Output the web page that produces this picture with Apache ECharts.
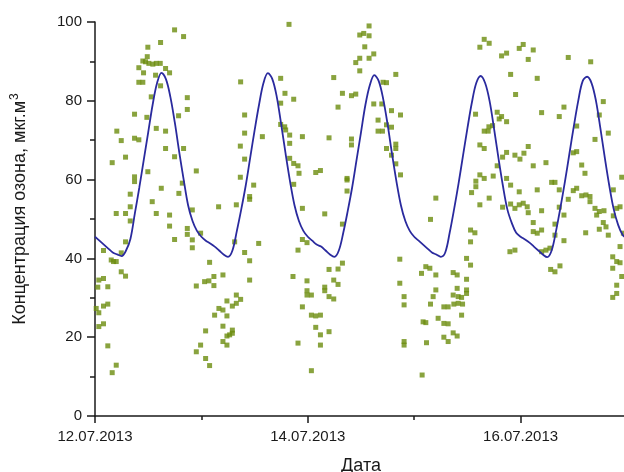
<!DOCTYPE html>
<html>
<head>
<meta charset="utf-8">
<script src="https://cdn.jsdelivr.net/npm/echarts@6/dist/echarts.min.js"></script>
<style>
html,body{margin:0;padding:0;background:#fff;}
#chart{width:624px;height:472px;}
</style>
</head>
<body>
<div id="chart"></div>
<script>
// x values are hours since 12.07.2013 00:00
const tickLabels = ['12.07.2013', '14.07.2013', '16.07.2013'];
const xTitle = 'Дата';
const yTitle = 'Концентрация озона, мкг.м';

// modelled ozone concentration, hourly (h0 .. h120)
const modelValues = [
  45.5, 44.5, 43.5, 42.5, 41.5, 41, 40.6, 42, 45, 51.5, 58, 65, 72, 79, 84.5, 87.1, 85.5, 81, 74.5, 67, 60, 53.5, 49.5, 47,
  45.5, 44.5, 43.8, 43, 42, 41, 40.4, 42, 47, 52.5, 58.5, 65.5, 72.5, 79, 84.5, 87, 85.5, 81, 74, 66.5, 59.5, 53.5, 49.5, 47,
  45.5, 44.5, 43.5, 43, 42, 41, 40.4, 42, 46.5, 52, 58, 65, 72, 79, 84, 86.5, 85, 80.5, 74, 66.5, 59.5, 53.5, 49.5, 47,
  45.5, 44.5, 43.5, 42.5, 41.5, 41, 40.4, 41.5, 46.5, 52.5, 59, 66, 73, 79.5, 84.5, 86.3, 84.5, 80, 73, 65.5, 58.5, 52.5, 49, 46.5,
  45.5, 44.8, 44, 43, 42, 41, 40.3, 42, 47, 53, 59.5, 66.5, 73.5, 80, 85, 86.1, 84.5, 80, 73, 65.5, 58.5, 52.5, 48.5, 46,
  45
];

// observed ozone concentration: [hour, value]
const observed = [
  [17.95,98.0],[19.98,96.3],[14.79,94.8],[11.92,93.6],[11.79,91.2],[10.79,90.1],[11.40,89.9],[12.15,89.5],[13.05,89.3],[13.82,89.5],
  [14.72,89.5],[9.89,88.4],[15.92,88.2],[16.82,87.1],[10.95,87.1],[13.66,86.5],[9.89,84.7],[10.79,84.7],[14.79,83.8],[12.69,81.0],
  [20.82,80.8],[20.82,77.8],[8.92,76.6],[11.70,75.8],[18.85,76.2],[13.82,73.0],[15.92,72.3],[4.92,72.3],[5.92,69.9],[8.92,70.5],
  [9.89,70.1],[15.92,67.9],[19.98,67.9],[3.88,64.3],[6.89,65.7],[17.95,65.8],[22.85,62.2],[11.92,62.0],[8.92,60.7],[8.92,59.5],
  [19.69,59.1],[14.95,57.8],[7.95,56.3],[18.92,56.5],[12.91,54.4],[7.95,53.1],[21.95,52.3],[4.79,51.4],[6.89,51.4],[13.82,51.4],
  [16.82,51.0],[32.85,84.8],[33.75,76.4],[33.75,71.8],[32.78,68.5],[33.75,65.2],[37.75,70.9],[32.78,60.6],[35.79,58.6],[34.88,55.7],
  [34.88,55.0],[31.88,53.6],[27.88,53.1],
  [7.95,49.5],[16.82,48.2],[20.82,47.6],[20.82,46.1],[21.95,44.7],[21.95,42.7],[17.95,44.8],[23.82,46.4],[6.89,44.2],[1.92,42.0],
  [5.92,41.4],[3.66,39.6],[4.18,39.2],[4.79,39.2],[5.92,36.6],[6.89,35.5],[0.86,34.5],[1.92,34.9],[0.63,32.7],[2.89,32.8],
  [1.92,27.9],[2.89,28.4],[0.86,26.2],[0.86,22.7],[1.92,23.4],[2.89,17.8],[4.79,12.9],[3.88,11.0],[0.27,27.3],[31.5,44.2],
  [36.92,43.8],[33.75,41.5],[34.88,39.4],[34.88,34.5],[25.85,39.0],[26.82,35.4],[28.86,35.8],[24.72,34.1],[25.69,34.3],[26.82,33.1],
  [22.85,33.0],[29.76,29.2],[31.88,30.7],[32.85,29.6],[31.88,28.6],[30.98,27.9],[27.95,27.3],[28.86,26.9],[26.98,25.6],[29.76,25.4],
  [28.86,22.8],[30.98,21.8],[30.98,21.0],[29.76,20.3],[30.37,20.6],[24.95,21.6],[28.86,18.9],[29.76,18.0],[23.82,18.0],[22.85,16.3],
  [24.95,14.6],[25.85,12.8],
  [43.76,99.4],[61.82,99.0],[59.72,96.7],[60.62,97.1],[61.82,96.5],[60.85,93.7],[62.88,91.9],[59.72,90.8],[61.82,90.8],[58.82,89.7],
  [59.72,87.6],[67.85,86.7],[53.85,85.9],[41.88,85.7],[64.98,84.7],[65.75,84.6],[55.81,81.9],[57.85,81.3],[58.82,81.7],[42.85,81.9],
  [44.82,80.4],[41.88,79.4],[54.82,78.4],[62.88,79.2],[64.69,79.2],[66.88,77.5],[68.91,76.4],[63.85,75.1],[41.88,74.0],[42.79,73.4],
  [43.01,72.6],[65.75,73.9],[66.88,73.3],[63.85,72.3],[64.84,72.3],[43.91,71.3],[46.78,70.9],[52.79,70.6],[57.85,70.3],[57.85,68.8],
  [43.91,69.2],[67.85,69.0],[67.85,67.9],[65.75,67.9],[43.91,65.4],[66.88,66.2],[44.82,64.1],[45.79,63.5],[67.85,64.0],[46.02,61.6],
  [49.79,61.8],[50.85,62.3],[56.85,60.3],[56.85,59.9],[68.91,61.2],[44.82,58.8],[56.85,57.1],[76.88,55.3],[46.78,52.7],[51.82,51.3],
  [75.68,49.9],
  [55.81,48.7],[46.78,44.8],[47.82,44.0],[45.79,42.1],[55.81,38.8],[52.79,37.2],[54.82,37.3],[44.66,35.4],[47.82,34.3],[53.85,34.5],
  [54.82,33.4],[51.82,32.7],[51.82,31.8],[47.82,31.8],[47.82,30.7],[48.81,30.7],[52.79,30.3],[53.85,29.7],[46.78,27.7],[48.81,25.6],
  [49.79,25.4],[50.85,25.6],[49.79,22.5],[52.79,21.4],[50.85,20.6],[45.79,18.5],[50.85,18.0],[48.81,11.5],[68.75,39.8],[74.62,37.9],
  [75.53,37.5],[73.65,36.2],[76.88,35.8],[68.75,33.7],[69.72,30.3],[76.88,32.0],[76.27,30.3],[75.68,28.4],[69.72,28.2],[74.01,23.9],
  [74.62,23.7],[69.72,18.9],[69.72,18.0],[74.78,18.6],[73.79,10.4],[77.4,24.8],
  [87.79,95.6],[88.91,94.6],[86.81,93.6],[96.59,94.3],[95.69,93.3],[98.85,92.9],[91.71,91.4],[92.84,92.1],[97.72,90.5],[106.75,91.0],
  [111.81,89.9],[93.75,86.7],[99.75,85.7],[94.87,81.6],[114.65,79.8],[105.78,78.4],[100.74,77.0],[85.84,76.6],[90.72,77.1],[91.71,76.0],
  [91.17,75.4],[104.72,76.0],[92.84,74.7],[113.75,76.4],[89.68,73.7],[88.85,73.4],[87.79,72.3],[88.69,72.3],[108.65,73.6],[115.78,71.8],
  [86.81,68.8],[87.79,67.9],[97.72,68.4],[112.78,70.2],[92.84,66.9],[94.72,66.2],[95.85,65.2],[96.75,66.7],[91.94,65.7],[107.88,66.8],
  [108.65,67.1],[98.85,63.5],[101.72,64.3],[90.72,63.5],[109.78,63.7],[110.52,61.6],[86.81,61.2],[87.79,60.3],[85.91,59.6],[89.82,60.9],
  [92.84,60.3],[103.0,59.3],[103.75,59.3],[118.81,60.6],[84.94,56.7],[85.91,58.2],[93.75,58.6],[104.72,57.4],[108.65,57.8],[107.88,57.2],
  [99.75,57.4],[95.69,56.9],[116.91,57.4],[88.91,55.3],[109.78,55.9],[110.75,56.1],[111.65,55.7],[111.65,54.4],[86.81,53.6],[93.75,53.8],
  [95.69,53.6],[96.59,54.0],[97.49,53.1],[94.72,52.7],[106.75,55.0],[112.78,52.7],[113.75,51.9],[114.81,52.1],[100.74,52.1],[91.94,53.0],
  [104.72,53.0],[117.68,52.7],[97.72,51.6],[113.16,51.0],
  [105.78,51.0],[114.65,49.1],[115.26,48.0],[113.75,47.4],[115.78,45.9],[110.68,46.5],[98.85,49.1],[98.85,46.8],[99.75,46.4],[100.74,47.2],
  [103.75,48.7],[103.75,45.9],[105.78,44.5],[84.71,47.2],[85.69,46.5],[84.71,44.2],[93.59,41.7],[94.72,42.1],[100.74,41.7],[101.72,42.1],
  [102.62,42.6],[83.81,40.0],[84.71,38.3],[102.78,37.2],[103.75,36.6],[104.88,38.1],[80.79,36.4],[81.69,35.8],[83.81,34.7],[81.69,32.4],
  [83.81,32.0],[83.81,31.1],[80.79,30.7],[81.92,30.3],[82.69,30.1],[78.69,27.7],[79.66,27.7],[80.94,28.4],[81.92,28.6],[82.91,28.4],
  [82.69,25.6],[78.69,23.5],[79.66,23.4],[80.79,21.1],[81.69,20.3],[78.69,20.0],[79.66,18.9],[116.78,40.4],[117.68,39.2],[118.43,38.9],
  [116.78,37.5],[118.81,35.4],[117.68,33.2],[117.68,31.1],[116.78,30.1],[118.43,43.0],[116.91,50.8],[118.43,53.1],[119.18,46.4]
];

const modelData = modelValues.map((v, i) => [i, v]);

const font = 'Liberation Sans, Arial, Helvetica, sans-serif';
const axisColor = '#1a1a1a';

const chart = echarts.init(document.getElementById('chart'), null, {renderer: 'canvas'});
chart.setOption({
  backgroundColor: '#ffffff',
  animation: false,
  grid: {left: 95, right: -3, top: 22, bottom: 56, containLabel: false, outerBoundsMode: 'none'},
  xAxis: {
    type: 'value',
    min: 0,
    max: 120,
    interval: 48,
    name: xTitle,
    nameLocation: 'middle',
    nameGap: 41,
    nameTextStyle: {fontFamily: font, fontSize: 18, color: axisColor},
    axisLine: {show: true, lineStyle: {color: axisColor, width: 1.5}},
    axisTick: {show: true, inside: false, length: 7, lineStyle: {color: axisColor, width: 1.5}},
    minorTick: {show: true, splitNumber: 2, length: 4, lineStyle: {color: axisColor, width: 1.5}},
    splitLine: {show: false},
    minorSplitLine: {show: false},
    axisLabel: {
      fontFamily: font, fontSize: 15, color: axisColor, margin: 13,
      formatter: function (v) {
        const k = Math.round(v / 48);
        return (Math.abs(v - k * 48) < 1e-6 && tickLabels[k]) ? tickLabels[k] : '';
      }
    }
  },
  yAxis: {
    type: 'value',
    min: 0,
    max: 100,
    interval: 20,
    name: '{t|' + yTitle + '}{s|3}',
    nameLocation: 'middle',
    nameGap: 64,
    nameTextStyle: {
      fontFamily: font, fontSize: 18, color: axisColor,
      padding: [0, 0, 0, 20],
      rich: {
        t: {fontFamily: font, fontSize: 18, color: axisColor, lineHeight: 22},
        s: {fontFamily: font, fontSize: 12, color: axisColor, verticalAlign: 'top', lineHeight: 22, padding: [0, 0, 9, 1]}
      }
    },
    axisLine: {show: true, lineStyle: {color: axisColor, width: 1.5}},
    axisTick: {show: true, inside: false, length: 8, lineStyle: {color: axisColor, width: 1.5}},
    minorTick: {show: true, splitNumber: 2, length: 5, lineStyle: {color: axisColor, width: 1.5}},
    splitLine: {show: false},
    minorSplitLine: {show: false},
    axisLabel: {fontFamily: font, fontSize: 15, color: axisColor, margin: 13}
  },
  series: [
    {
      type: 'scatter',
      data: observed,
      symbol: 'rect',
      symbolSize: 5,
      itemStyle: {color: '#6b8c0e'},
      z: 2,
      clip: true
    },
    {
      type: 'line',
      data: modelData,
      showSymbol: false,
      smooth: 0.35,
      lineStyle: {color: '#2a2a9e', width: 1.8},
      z: 3,
      clip: true
    }
  ]
});
</script>
</body>
</html>
